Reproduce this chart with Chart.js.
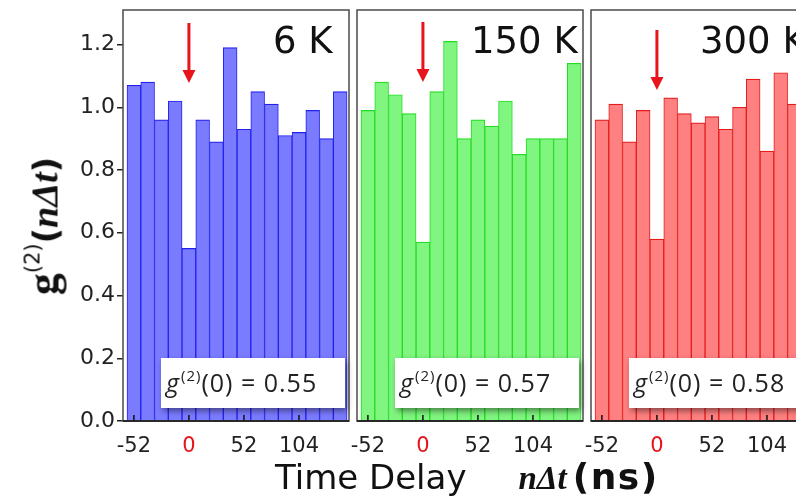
<!DOCTYPE html>
<html>
<head>
<meta charset="utf-8">
<script src="https://cdn.jsdelivr.net/npm/chart.js@4.4.1/dist/chart.umd.min.js"></script>
<style>
  html, body { margin:0; padding:0; background:#fff; }
  #wrap { position:relative; width:796px; height:497px; overflow:hidden; background:#fff; }
  canvas { position:absolute; top:0; }
  #ytitle { position:absolute; left:43px; top:226px; transform:translate(-50%,-50%) rotate(-90deg);
            white-space:nowrap; line-height:1; color:#111; }
  #ytitle .gg { font: bold 44px 'Liberation Serif'; }
  #ytitle .sup { font: 21px 'DejaVu Sans'; position:relative; top:-18px; }
  #ytitle .par { font: bold 34px 'DejaVu Sans'; }
  #ytitle .nd { font: bold italic 38px 'Liberation Serif'; }
  #xtitle { position:absolute; left:275px; top:456px; white-space:nowrap; line-height:1; color:#111; }
  #xtitle .a { font: 34px 'DejaVu Sans'; }
  #xtitle .b { font: bold italic 33px 'Liberation Serif'; margin-left:52px; }
  #xtitle .c { font: bold 36px 'DejaVu Sans'; letter-spacing:1.5px; margin-left:6px; }
</style>
</head>
<body>
<div id="wrap">
  <canvas id="c1" width="356" height="497" style="left:0px"></canvas>
  <canvas id="c2" width="246" height="497" style="left:343px"></canvas>
  <canvas id="c3" width="250" height="497" style="left:577px"></canvas>
  <div id="ytitle"><span class="gg">g</span><span class="sup">(2)</span><span class="par">(</span><span class="nd">nΔt</span><span class="par">)</span></div>
  <div id="xtitle"><span class="a">Time Delay</span><span class="b">nΔt</span><span class="c">(ns)</span></div>
</div>
<script>
// ---- data ----
const delays   = [-52, -39, -26, -13, 0, 13, 26, 39, 52, 65, 78, 91, 104, 117, 130, 143];
const g2At6K   = [1.07, 1.08, 0.96, 1.02, 0.55, 0.96, 0.89, 1.19, 0.93, 1.05, 1.01, 0.91, 0.92, 0.99, 0.90, 1.05];
const g2At150K = [0.99, 1.08, 1.04, 0.98, 0.57, 1.05, 1.21, 0.90, 0.96, 0.94, 1.02, 0.85, 0.90, 0.90, 0.90, 1.14];
const g2At300K = [0.96, 1.01, 0.89, 0.99, 0.58, 1.03, 0.98, 0.95, 0.97, 0.93, 1.00, 1.09, 0.86, 1.11, 1.01];
const yTickValues = [0, 0.2, 0.4, 0.6, 0.8, 1.0, 1.2];
const xTickValues = [-52, 0, 52, 104];
const panelLabels = ['6 K', '150 K', '300 K'];
const g2ZeroLabels = ['0.55', '0.57', '0.58'];

// ---- styles ----
const panels = [
  { id:'c1', values:g2At6K,   label:panelLabels[0], zero:g2ZeroLabels[0], fill:'#7b7bff', line:'#2222ee', showY:true,  padL:0,  padR:7,  labelX:150, arrowTop:23 },
  { id:'c2', values:g2At150K, label:panelLabels[1], zero:g2ZeroLabels[1], fill:'#80f580', line:'#22dd22', showY:false, padL:14, padR:6,  labelX:114, arrowTop:22 },
  { id:'c3', values:g2At300K, label:panelLabels[2], zero:g2ZeroLabels[2], fill:'#ff8080', line:'#e41c1c', showY:false, padL:14, padR:10, labelX:109, arrowTop:30 }
];

const decor = {
  id: 'decor',
  afterDatasetsDraw(chart, args, o) {
    const { ctx, chartArea: a, scales: { x } } = chart;
    ctx.save();
    // inner tick marks on x axis
    ctx.strokeStyle = '#111'; ctx.lineWidth = 1.5;
    x.ticks.forEach(t => {
      const px = x.getPixelForValue(t.value);
      ctx.beginPath(); ctx.moveTo(px, a.bottom); ctx.lineTo(px, a.bottom - 6); ctx.stroke();
    });
    // frame
    ctx.strokeStyle = '#555'; ctx.lineWidth = 1.6;
    ctx.strokeRect(a.left, a.top, a.width, a.height);
    ctx.strokeStyle = '#111'; ctx.lineWidth = 1.5;
    ctx.beginPath(); ctx.moveTo(a.left, a.bottom); ctx.lineTo(a.right, a.bottom); ctx.stroke();
    // red arrow at zero delay
    const ax = x.getPixelForValue(0);
    ctx.fillStyle = '#e8141c';
    ctx.fillRect(ax - 1.5, o.arrowTop, 3, 50);
    ctx.beginPath();
    ctx.moveTo(ax - 6.5, o.arrowTop + 47); ctx.lineTo(ax + 6.5, o.arrowTop + 47); ctx.lineTo(ax, o.arrowTop + 60);
    ctx.closePath(); ctx.fill();
    // panel label
    ctx.fillStyle = '#111'; ctx.font = "37px 'DejaVu Sans'";
    ctx.textAlign = 'left'; ctx.textBaseline = 'alphabetic';
    ctx.fillText(o.label, a.left + o.labelX, a.top + 43);
    // g2(0) box
    const bx = a.left + 38, by = a.bottom - 63, bw = 184, bh = 50;
    ctx.save();
    ctx.shadowColor = 'rgba(0,0,0,0.45)'; ctx.shadowBlur = 6; ctx.shadowOffsetX = 2; ctx.shadowOffsetY = 3;
    ctx.fillStyle = '#fff'; ctx.fillRect(bx, by, bw, bh);
    ctx.restore();
    ctx.fillStyle = '#222';
    if ('letterSpacing' in ctx) ctx.letterSpacing = '1px';
    let tx = bx + 5; const ty = by + 34;
    ctx.font = "italic 25px 'Open Sans'"; ctx.fillText('g', tx, ty); tx += ctx.measureText('g').width + 1;
    ctx.font = "15px 'Open Sans'"; ctx.fillText('(2)', tx, ty - 11); tx += ctx.measureText('(2)').width;
    ctx.font = "25px 'Open Sans'"; ctx.fillText('(0) = ' + o.zero, tx, ty);
    ctx.restore();
  }
};

panels.forEach(p => {
  new Chart(document.getElementById(p.id), {
    type: 'bar',
    data: {
      datasets: [{
        data: delays.slice(0, p.values.length).map((d, i) => ({ x: d, y: p.values[i] })),
        backgroundColor: p.fill,
        borderColor: p.line,
        borderWidth: { top: 1.2, left: 1, right: 1, bottom: 0 },
        borderSkipped: 'start',
        barPercentage: 1,
        categoryPercentage: 1,
        grouped: false
      }]
    },
    options: {
      responsive: false,
      animation: false,
      devicePixelRatio: 1,
      layout: { padding: { top: 10, right: p.padR, bottom: 0, left: p.padL } },
      plugins: { legend: { display: false }, tooltip: { enabled: false }, decor: p },
      scales: {
        x: {
          type: 'linear', min: -62.3, max: 151.3, offset: false,
          afterBuildTicks: s => { s.ticks = xTickValues.map(v => ({ value: v })); },
          afterFit: s => { s.height = 76; },
          grid: { display: false, offset: false },
          border: { display: false },
          ticks: {
            font: { family: 'DejaVu Sans', size: 21 },
            color: c => (c.tick && c.tick.value === 0) ? '#e8141c' : '#222',
            padding: 5, maxRotation: 0, autoSkip: false
          }
        },
        y: {
          display: p.showY,
          min: 0, max: 1.31,
          afterBuildTicks: s => { s.ticks = yTickValues.map(v => ({ value: v })); },
          afterFit: s => { s.width = p.showY ? 123 : 0; s.paddingTop = 0; },
          grid: { drawOnChartArea: false, drawTicks: true, tickLength: 6, color: '#222', lineWidth: 1.5 },
          border: { display: false },
          ticks: {
            font: { family: 'DejaVu Sans', size: 22, lineHeight: 0.8 },
            color: '#222', padding: 2,
            callback: v => v.toFixed(1)
          }
        }
      }
    },
    plugins: [decor]
  });
});
</script>
</body>
</html>
